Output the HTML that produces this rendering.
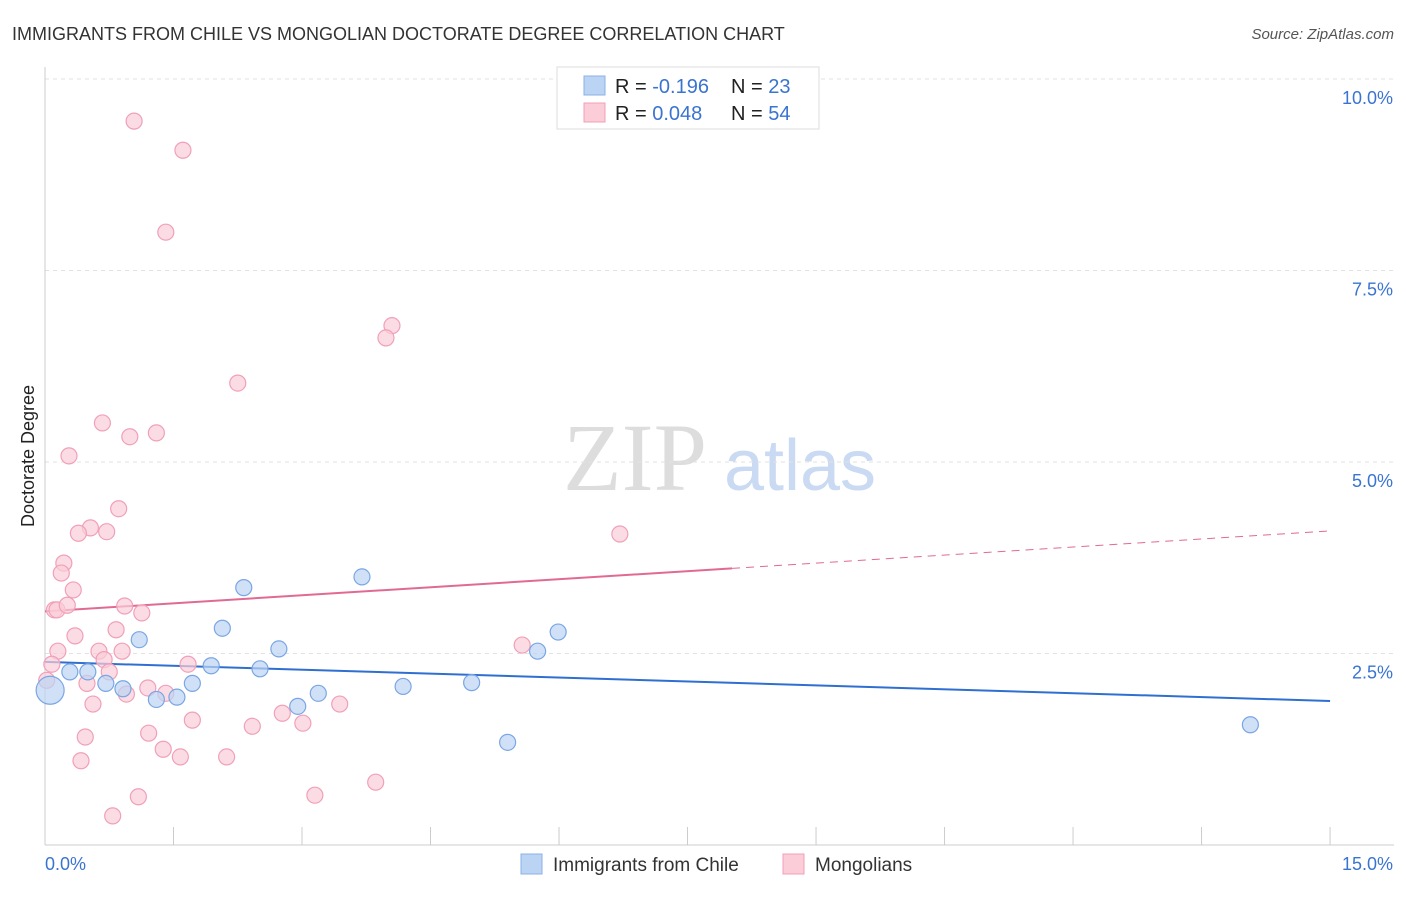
<!DOCTYPE html>
<html><head><meta charset="utf-8"><style>
body{margin:0;background:#fff;font-family:"Liberation Sans",sans-serif;}
</style></head><body>
<svg width="1406" height="892" xmlns="http://www.w3.org/2000/svg">
<text x="12" y="40" font-size="18" fill="#333">IMMIGRANTS FROM CHILE VS MONGOLIAN DOCTORATE DEGREE CORRELATION CHART</text>
<text x="1394" y="39" font-size="15" fill="#555" font-style="italic" text-anchor="end">Source: ZipAtlas.com</text>
<text x="635" y="490" font-size="96" fill="#ddd" font-family="Liberation Serif,serif" text-anchor="middle">ZIP</text>
<text x="800" y="490" font-size="72" fill="#c9daf2" text-anchor="middle">atlas</text>
<g id="grid"></g>
<g id="axes"></g>
<g id="trends"></g>
<g id="points"></g>
<text transform="translate(34,456) rotate(-90)" font-size="18" fill="#222" text-anchor="middle">Doctorate Degree</text>
<g>
<rect x="557" y="67" width="262" height="62" fill="#fff" stroke="#ddd"/>
<rect x="584" y="76" width="21" height="19" fill="#bcd4f3" stroke="#8ab2e8"/>
<rect x="584" y="103" width="21" height="19" fill="#fbcdd9" stroke="#f0a0b8"/>
<text x="615" y="93" font-size="20" fill="#222">R = <tspan fill="#3a74d0">-0.196</tspan></text>
<text x="731" y="93" font-size="20" fill="#222">N = <tspan fill="#3a74d0">23</tspan></text>
<text x="615" y="120" font-size="20" fill="#222">R = <tspan fill="#3a74d0">0.048</tspan></text>
<text x="731" y="120" font-size="20" fill="#222">N = <tspan fill="#3a74d0">54</tspan></text>
</g>
<g>
<rect x="521" y="854" width="21" height="20" fill="#bcd4f3" stroke="#8ab2e8"/>
<text x="553" y="871" font-size="19" fill="#333">Immigrants from Chile</text>
<rect x="783" y="854" width="21" height="20" fill="#fbcdd9" stroke="#f0a0b8"/>
<text x="815" y="871" font-size="19" fill="#333">Mongolians</text>
</g>
</svg>
<script>
const chileX=[0.06,0.29,0.50,0.71,0.91,1.10,1.30,1.54,1.72,1.94,2.07,2.32,2.51,2.73,2.95,3.19,3.70,4.18,4.98,5.40,5.75,5.99,14.07];
const chileY=[2.02,2.26,2.26,2.11,2.04,2.68,1.90,1.93,2.11,2.34,2.83,3.36,2.30,2.56,1.81,1.98,3.50,2.07,2.12,1.34,2.53,2.78,1.57];
const mongX=[1.04,1.61,1.41,4.05,3.98,2.25,0.67,1.30,0.99,0.28,0.86,0.53,0.39,0.72,0.22,0.19,0.33,0.11,0.14,0.26,0.93,1.13,0.83,0.35,0.15,0.63,0.90,0.69,0.75,0.08,0.49,1.20,1.41,0.95,0.56,1.67,3.44,1.72,2.42,2.77,3.01,1.21,0.47,1.38,1.58,2.12,0.42,3.15,3.86,1.09,0.79,5.57,6.71,0.02];
const mongY=[9.45,9.07,8.00,6.78,6.62,6.03,5.51,5.38,5.33,5.08,4.39,4.14,4.07,4.09,3.68,3.55,3.33,3.07,3.07,3.13,3.12,3.03,2.81,2.73,2.53,2.53,2.53,2.42,2.26,2.36,2.11,2.05,1.98,1.97,1.84,2.36,1.84,1.63,1.55,1.72,1.59,1.46,1.41,1.25,1.15,1.15,1.10,0.65,0.82,0.63,0.38,2.61,4.06,2.15];
const yTicks=[2.5,5.0,7.5,10.0];
const yTickLabels=["2.5%","5.0%","7.5%","10.0%"];
const xTicks=[0,1.5,3,4.5,6,7.5,9,10.5,12,13.5,15];
const chileTrend=[2.39,1.88];
const mongTrend=[3.05,4.10];
const mongSolidEnd=8.02;
const NS="http://www.w3.org/2000/svg";
const X=v=>45+v*85.67, Y=v=>845-v*76.6;
function mk(tag,attrs,parent){const e=document.createElementNS(NS,tag);for(const k in attrs)e.setAttribute(k,attrs[k]);document.getElementById(parent).appendChild(e);return e;}
yTicks.forEach((t,i)=>{
 const g=mk('line',{x1:45,x2:1394,y1:Y(t),y2:Y(t),stroke:'#e2e2e2','stroke-dasharray':'4,4'},'grid');
 
 
 const tx=mk('text',{x:1393,y:Y(t)+25,'font-size':18,fill:'#3a74d0','text-anchor':'end'},'axes');
 tx.textContent=yTickLabels[i];
 
 
});
const ya=mk('line',{x1:45,x2:45,y1:67,y2:845,stroke:'#ccc'},'axes');


const xa=mk('line',{x1:45,x2:1394,y1:845,y2:845,stroke:'#ccc'},'axes');


xTicks.forEach(t=>{
 const l=mk('line',{x1:X(t),x2:X(t),y1:827,y2:845,stroke:'#ccc'},'axes');
 
 
});
[["0.0%",45,'start'],["15.0%",1393,'end']].forEach(a=>{
 const t=mk('text',{x:a[1],y:870,'font-size':18,fill:'#3a74d0','text-anchor':a[2]},'axes');
 t.textContent=a[0];
 
 
});
mongX.forEach((x,i)=>{
 const c=mk('circle',{cx:X(x),cy:Y(mongY[i]),r:8,fill:'#fbcdd9','fill-opacity':0.7,stroke:'#f0a0b8','stroke-width':1.2},'points');
 
 
});
chileX.forEach((x,i)=>{
 const c=mk('circle',{cx:X(x),cy:Y(chileY[i]),r:i===0?14:8,fill:'#bcd4f3','fill-opacity':0.7,stroke:'#7aa6e3','stroke-width':1.2},'points');
 
 
});
const ct=mk('line',{x1:X(0),y1:Y(chileTrend[0]),x2:X(15),y2:Y(chileTrend[1]),stroke:'#2f6fd0','stroke-width':2},'trends');


const mAt=v=>mongTrend[0]+(mongTrend[1]-mongTrend[0])*v/15;
const mt=mk('line',{x1:X(0),y1:Y(mongTrend[0]),x2:X(mongSolidEnd),y2:Y(mAt(mongSolidEnd)),stroke:'#e06a93','stroke-width':2},'trends');


const md=mk('line',{x1:X(mongSolidEnd),y1:Y(mAt(mongSolidEnd)),x2:X(15),y2:Y(mongTrend[1]),stroke:'#e06a93','stroke-width':1,'stroke-dasharray':'8,6'},'trends');


</script>
</body></html>
